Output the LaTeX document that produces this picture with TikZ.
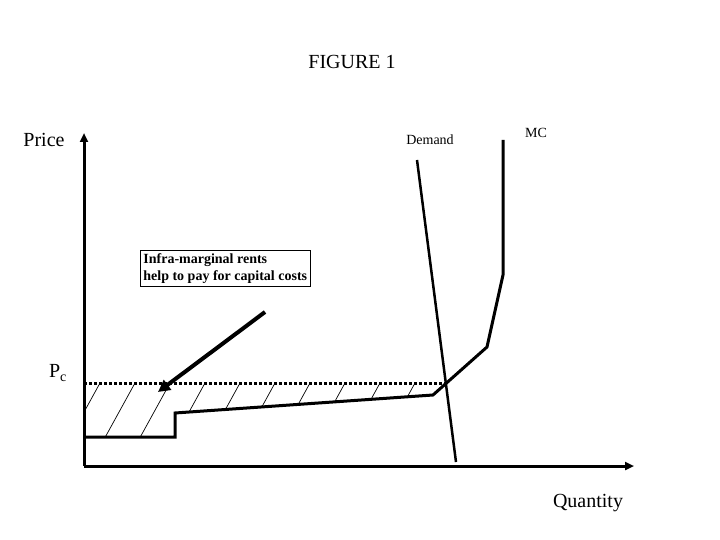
\documentclass[tikz,border=0pt]{standalone}
\usepackage{fontspec}
\setmainfont{Liberation Serif}
\usetikzlibrary{arrows.meta}
\begin{document}
\begin{tikzpicture}[x=1pt,y=-1pt,
  curve/.style={line width=3pt,line join=miter},
  axis/.style={line width=3pt,-{Triangle[length=9pt,width=8pt]}},
  lbl/.style={inner sep=0pt,font=\fontsize{20}{22}\selectfont}]
\useasboundingbox (0,0) rectangle (720,540);
\fill[white] (0,0) rectangle (720,540);
\node[lbl] (title) at (352,62) {FIGURE 1};
\node[lbl] (price) at (44,140) {Price};
\node[inner sep=0pt,font=\fontsize{14}{16}\selectfont] (dem) at (430,140) {Demand};
\node[inner sep=0pt,font=\fontsize{14}{16}\selectfont] (mc) at (536,133) {MC};
\node[lbl] (pc) at (58,373) {P\textsubscript{c}};
\node[lbl] (qty) at (588,503) {Quantity};
\coordinate (o) at (84,466);
\coordinate (ytop) at (84,133);
\coordinate (xend) at (634,466);
% hatching
\begin{scope}
\clip (84,383) -- (441,383) -- (433,395) -- (175,413) -- (175,437) -- (84,437) -- cycle;
\foreach \x in {100,135,170,205,240,275,310,345,380,415,450}
  \draw[line width=0.7pt] (\x,383) -- ({\x-0.55*60},443);
\end{scope}
\draw[line width=3pt,dash pattern=on 3pt off 2pt] (84,383) -- (445,383);
\draw[curve] (84,437) -- (175,437) -- (175,413) -- (433,395) -- (487,347) -- (503,275) -- (503,140);
\draw[line width=2.5pt] (417,160) -- (456,462);
\draw[axis] (o) -- (ytop);
\draw[axis] (o) -- (xend);
\node[draw,line width=0.8pt,align=left,font=\bfseries\fontsize{14}{17}\selectfont,inner sep=3pt,anchor=north west] (box) at (140,250) {Infra-marginal rents\\help to pay for capital costs};
\coordinate (as) at (265,312);
\coordinate (ae) at (158,392);
\draw[line width=4pt,-{Triangle[length=12pt,width=12pt]}] (as) -- (ae);
\end{tikzpicture}
\end{document}
